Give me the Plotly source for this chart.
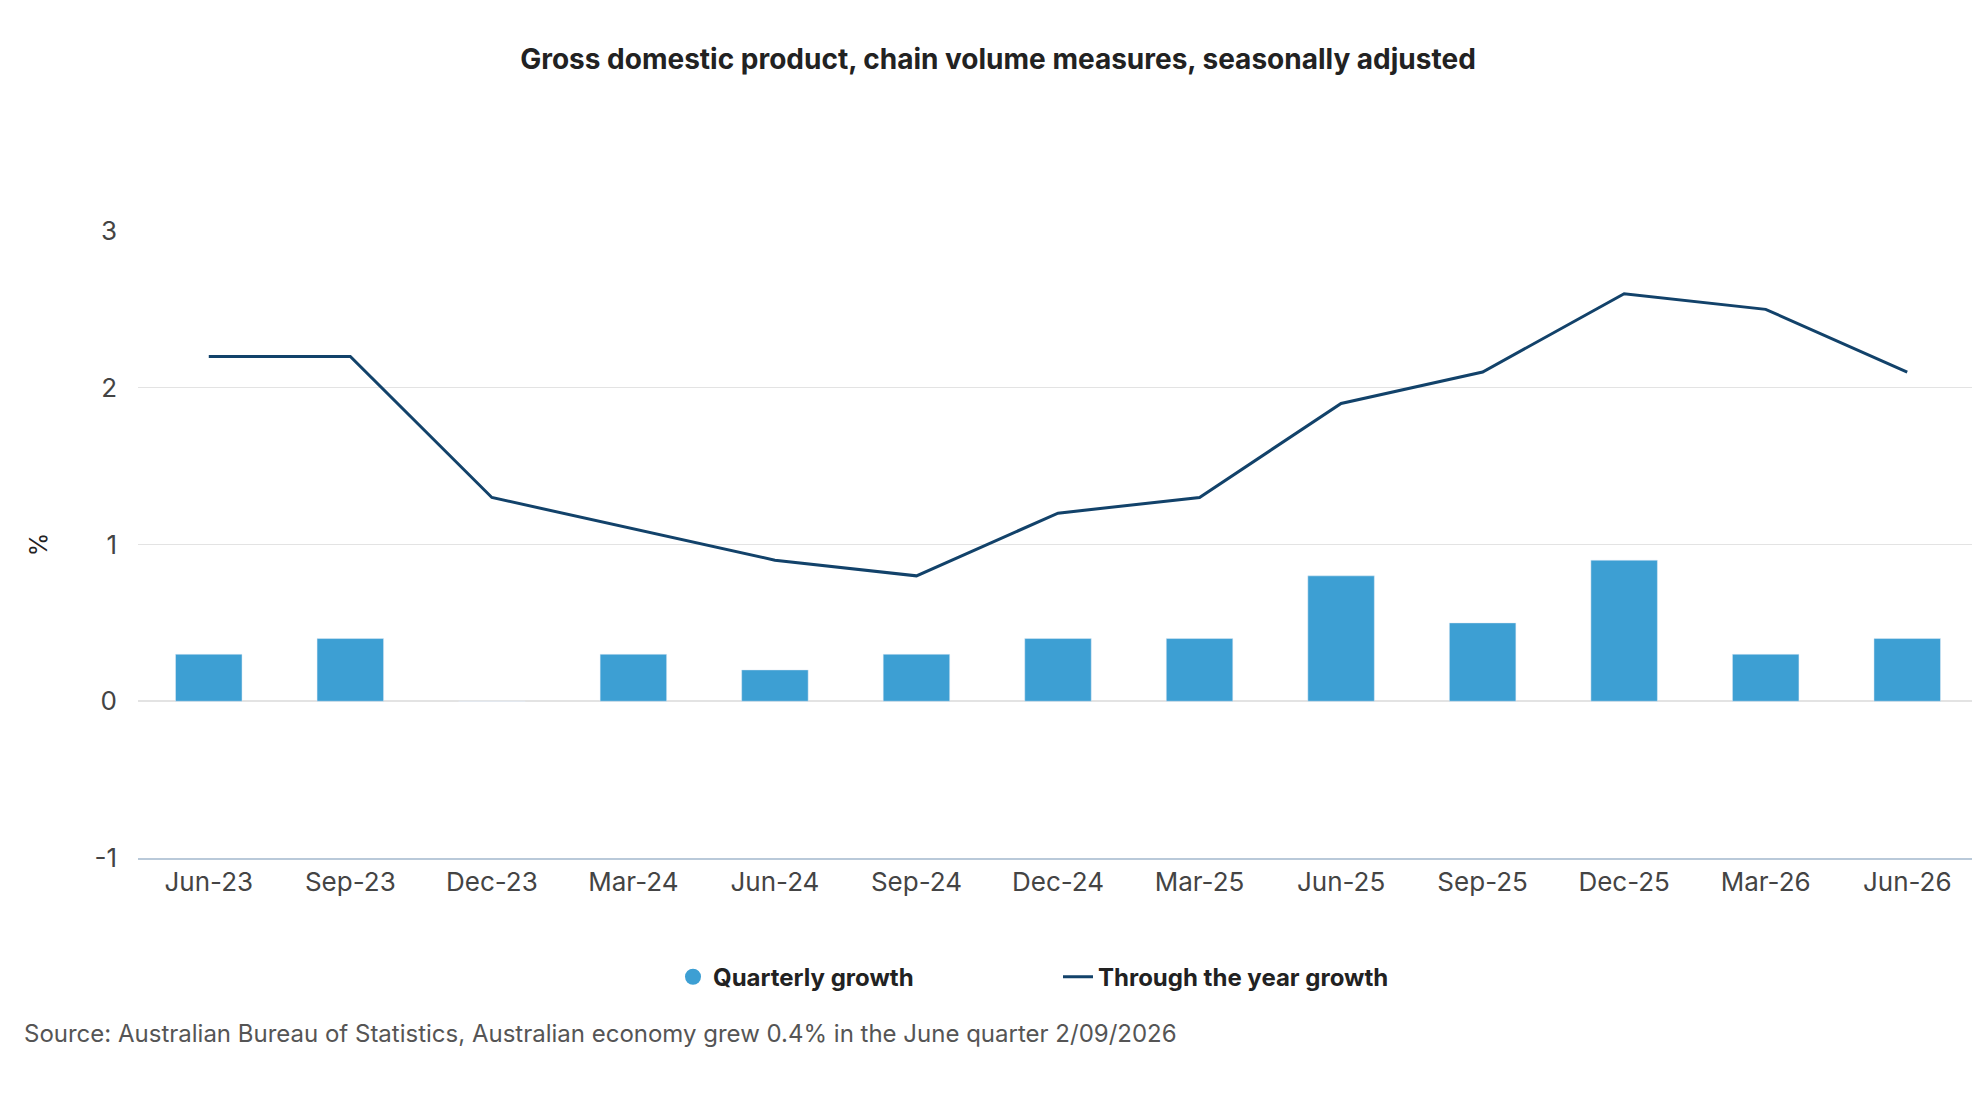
import plotly.graph_objects as go

quarters = ["Jun-23","Sep-23","Dec-23","Mar-24","Jun-24","Sep-24","Dec-24","Mar-25","Jun-25","Sep-25","Dec-25","Mar-26","Jun-26"]
quarterly_growth = [0.3,0.4,0.0,0.3,0.2,0.3,0.4,0.4,0.8,0.5,0.9,0.3,0.4]
through_year_growth = [2.2,2.2,1.3,1.1,0.9,0.8,1.2,1.3,1.9,2.1,2.6,2.5,2.1]
y_ticks = [-1, 0, 1, 2, 3]
y_tick_labels = ["-1", "0", "1", "2", "3"]

BAR = "#3d9fd3"
LINE = "#12426a"

fig = go.Figure()
fig.add_trace(go.Bar(x=quarters, y=quarterly_growth, marker_color=BAR, width=0.47, showlegend=False))
fig.add_trace(go.Scatter(x=[None], y=[None], mode="markers", name="Quarterly growth",
                         marker=dict(color=BAR, size=30, symbol="circle")))
fig.add_trace(go.Scatter(x=quarters, y=through_year_growth, mode="lines", name="Through the year growth",
                         line=dict(color=LINE, width=3)))

fig.update_layout(
    width=1980, height=1100,
    paper_bgcolor="white", plot_bgcolor="white",
    font=dict(family="Inter, Roboto, sans-serif", color="#333"),
    title=dict(text="<b>Gross domestic product, chain volume measures, seasonally adjusted</b>",
               x=0.5, xanchor="center", y=0.962, font=dict(size=28, color="#222")),
    margin=dict(l=130, r=10, t=223, b=250),
    xaxis=dict(showgrid=False, showline=True, linecolor="#b9c9d9", linewidth=1.5, ticks="",
               tickfont=dict(size=26, color="#444")),
    yaxis=dict(range=[-1, 3], tickvals=y_ticks, ticktext=y_tick_labels, gridcolor="#e3e3e3", zeroline=True,
               zerolinecolor="#e3e3e3", tickfont=dict(size=26, color="#444"), ticklabelstandoff=20,
               title=dict(text="%", font=dict(size=24, color="#222"), standoff=40)),
    legend=dict(orientation="h", x=0.5, xanchor="center", y=-0.19, yanchor="middle",
                font=dict(size=24, color="#222", weight="bold"), entrywidth=340, tracegroupgap=0),
    bargap=0.5,
)
fig.add_annotation(text="Source: Australian Bureau of Statistics, Australian economy grew 0.4% in the June quarter 2/09/2026",
                   xref="paper", yref="paper", x=-0.063, y=-0.28, xanchor="left", yanchor="middle",
                   showarrow=False, font=dict(size=24, color="#555"))
fig.write_html("out.html")
